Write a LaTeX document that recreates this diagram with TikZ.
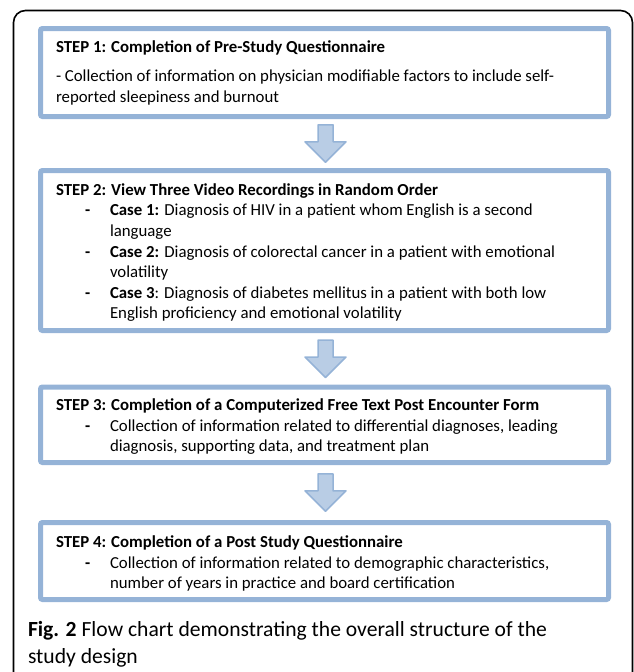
\documentclass[tikz,border=0pt]{standalone}
\usepackage{fontspec}
\setmainfont{Carlito}
\usetikzlibrary{calc}
\definecolor{boxblue}{HTML}{95B3D7}
\definecolor{arrowfill}{HTML}{B9CDE5}
\tikzset{
  stepbox/.style={draw=boxblue, line width=5pt, rounded corners=2pt, inner sep=0pt, outer sep=0pt, minimum width=568pt, anchor=north west},
  txt/.style={anchor=base west, inner sep=0pt, outer sep=0pt, font=\fontsize{16.8pt}{20pt}\selectfont},
  captxt/.style={anchor=base west, inner sep=0pt, outer sep=0pt, font=\fontsize{21.6pt}{26pt}\selectfont},
  dashmark/.style={anchor=base west, inner sep=0pt, outer sep=0pt, font=\fontsize{16.8pt}{20pt}\selectfont\bfseries},
  framestyle/.style={draw=black, line width=1.6pt, rounded corners=12pt},
  arrowshape/.style={draw=boxblue, fill=arrowfill, line width=1.5pt, line join=round},
  downarrow/.pic={\draw[arrowshape] (-7.5,-18.75) -- (-7.5,-1.75) -- (-20.5,-1.75) -- (0,18.75) -- (20.5,-1.75) -- (7.5,-1.75) -- (7.5,-18.75) -- cycle;}
}
\begin{document}
\begin{tikzpicture}[x=1pt,y=-1pt]
\useasboundingbox (0,0) rectangle (634,672);
% outer frame
\draw[framestyle] (13.5,680) -- (13.5,10.5) -- (632.5,10.5) -- (632.5,680);
% boxes
\node[stepbox, minimum height=88pt] (b1) at (40.5,28.5) {};
\node[stepbox, minimum height=160pt] (b2) at (40.5,170.5) {};
\node[stepbox, minimum height=75.5pt] (b3) at (40.5,387) {};
\node[stepbox, minimum height=77pt] (b4) at (40.5,522.5) {};
% arrows
\coordinate (a1) at ($(b1.south)!0.5!(b2.north)+(1,0)$);
\coordinate (a2) at ($(b2.south)!0.5!(b3.north)+(1,0)$);
\coordinate (a3) at ($(b3.south)!0.5!(b4.north)+(1,0)$);
\pic at (a1) {downarrow};
\pic at (a2) {downarrow};
\pic at (a3) {downarrow};
% box 1 text
\node[txt] (t1h) at (56,52) {\bfseries STEP 1: Completion of Pre-Study Questionnaire};
\node[txt] (t1a) at (56,81) {- Collection of information on physician modifiable factors to include self-};
\node[txt] (t1b) at (56,102) {reported sleepiness and burnout};
% box 2 text
\node[txt] (t2h) at (56,195) {\bfseries STEP 2: View Three Video Recordings in Random Order};
\node[dashmark] (d21) at (85,215.5) {-};
\node[txt] (t2a) at (110,215.5) {\textbf{Case 1:} Diagnosis of HIV in a patient whom English is a second};
\node[txt] (t2b) at (110,236) {language};
\node[dashmark] (d22) at (85,257) {-};
\node[txt] (t2c) at (110,257) {\textbf{Case 2:} Diagnosis of colorectal cancer in a patient with emotional};
\node[txt] (t2d) at (110,277.5) {volatility};
\node[dashmark] (d23) at (85,298) {-};
\node[txt] (t2e) at (110,298) {\textbf{Case 3}: Diagnosis of diabetes mellitus in a patient with both low};
\node[txt] (t2f) at (110,318.5) {English proficiency and emotional volatility};
% box 3 text
\node[txt] (t3h) at (56,410) {\bfseries STEP 3: Completion of a Computerized Free Text Post Encounter Form};
\node[dashmark] (d31) at (85,431) {-};
\node[txt] (t3a) at (110,431) {Collection of information related to differential diagnoses, leading};
\node[txt] (t3b) at (110,451.5) {diagnosis, supporting data, and treatment plan};
% box 4 text
\node[txt] (t4h) at (56,547) {\bfseries STEP 4: Completion of a Post Study Questionnaire};
\node[dashmark] (d41) at (85,568) {-};
\node[txt] (t4a) at (110,568) {Collection of information related to demographic characteristics,};
\node[txt] (t4b) at (110,588.5) {number of years in practice and board certification};
% caption
\node[captxt] (c1) at (28,636) {\textbf{Fig. 2} Flow chart demonstrating the overall structure of the};
\node[captxt] (c2) at (28,663.5) {study design};
\end{tikzpicture}
\end{document}
